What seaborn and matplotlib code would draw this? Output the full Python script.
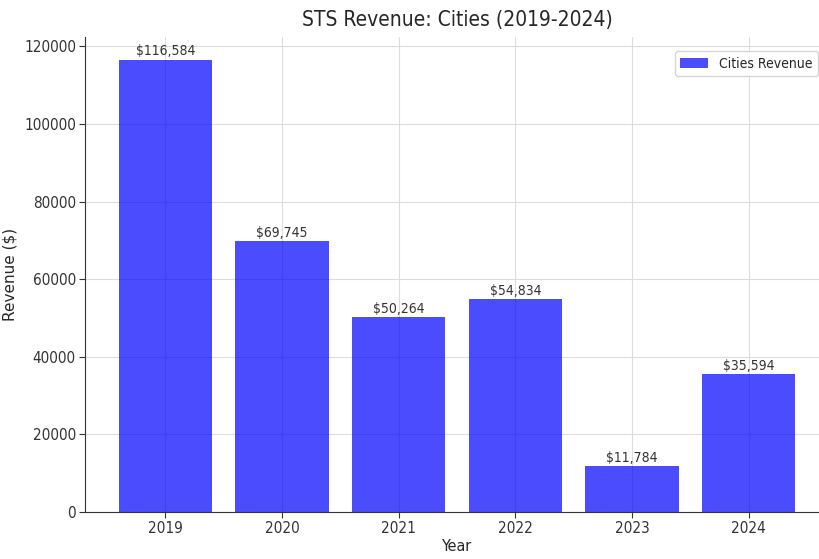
import matplotlib
matplotlib.use("Agg")
import matplotlib.pyplot as plt
import pandas as pd
import seaborn as sns

years = ["2019", "2020", "2021", "2022", "2023", "2024"]
revenue = [116584, 69745, 50264, 54834, 11784, 35594]

sns.set_style("whitegrid")
plt.rcParams['font.family'] = ['DejaVu Sans']
plt.rcParams['font.stretch'] = 'condensed'

df = pd.DataFrame({"Year": years, "Revenue": revenue})

fig = plt.figure(figsize=(8.2, 5.59), dpi=100)
# axes is slightly wider than the figure, the reference is cropped at the right
ax = fig.add_axes([85 / 820, 47 / 559, 744 / 820, 475 / 559])

sns.barplot(data=df, x="Year", y="Revenue", color="blue", alpha=0.7,
            width=0.8, label="Cities Revenue", ax=ax, saturation=1, linewidth=0)

for i, v in enumerate(revenue):
    ax.text(i, v + 300, "${:,}".format(v), ha="center", va="bottom",
            fontsize=10, color="#333333")

ax.set_xlim(-0.69, 5.69)
ax.set_ylim(0, 122413)
ax.set_yticks(range(0, 120001, 20000))
ax.set_title("STS Revenue: Cities (2019-2024)", fontsize=15, pad=8)
ax.set_xlabel("Year", fontsize=11.5, labelpad=2)
ax.set_ylabel("Revenue ($)", fontsize=11, labelpad=5, fontstretch="normal")
ax.tick_params(axis="both", labelsize=11, length=4, pad=2.5, left=True, bottom=True, colors="#333333")
ax.grid(True, color="#dddddd", linewidth=0.8)
for s in ["top", "right"]:
    ax.spines[s].set_visible(False)
for s in ["left", "bottom"]:
    ax.spines[s].set_color("#333333")
ax.legend(loc="upper right", fontsize=10, frameon=True, bbox_to_anchor=(0.995, 0.985))

fig.savefig("out.png", dpi=100)
